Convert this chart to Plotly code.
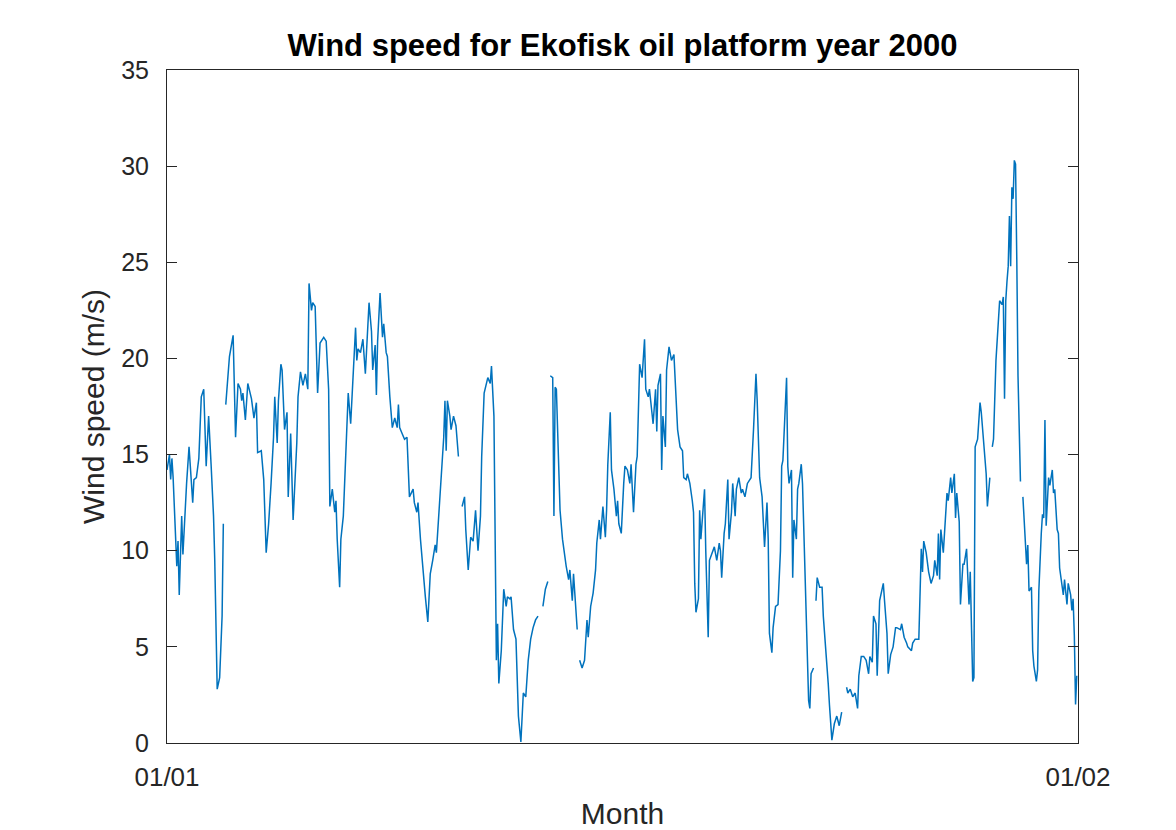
import pandas as pd
import plotly.graph_objects as go

# Hourly wind speed at Ekofisk, January 2000 (hours since 2000-01-01 00:00).
# None marks missing observations, which break the line.
hours = [
    0, 2, 3, 4, 5, 7, 8, 9, 10, 12, 13, 16, 18, 21, 22, 24, 26, 28, 30, 32,
    34, 36, 38, 39, 41, 43, 45, 46, 47,
    48, 50, 51, 54, 55, 56, 58, 60, 61, 62, 64, 66, 69, 71, 73, 74, 77, 79, 81, 83,
    85, 87, 88, 90, 91, 93, 94, 96, 98, 99, 101, 103, 106, 107, 109, 111, 113, 115, 116, 118,
    119, 121, 123, 125, 128, 130, 132, 133, 135, 137, 138, 139, 141, 142, 144, 146, 148, 150, 152, 154,
    155, 156, 158, 160, 162, 164, 165, 167, 168, 170, 171, 172, 174, 176, 177, 179, 180, 182, 184, 186,
    188, 189, 190, 192, 194, 196, 197, 198, 201, 202, 204, 205, 207, 209, 211, 213, 215, 217, 219, 220,
    222, 224, 226, 227, 228, 229, 231, 232, 234, 236, 238, 239,
    241, 243, 244, 246, 248, 250, 252, 254, 256, 257, 259, 262, 264, 265, 267, 268, 269, 270, 271, 273,
    275, 277, 278, 280, 281, 283, 285, 287, 289, 291, 293, 295, 297, 299, 301, 303, 305,
    307, 309, 311, 312,
    313, 315, 316, 317, 318, 320, 321, 323, 325, 326, 328, 329, 331, 332, 335, 336,
    337, 339, 341, 343, 344, 346, 348, 350, 351, 353, 354, 355, 356, 358, 359, 360, 362, 363, 365, 367,
    368, 369, 371, 373, 374, 376, 378, 379, 381, 383, 384, 386, 388, 390, 391, 393, 394, 396, 397, 399,
    400, 401, 403, 404, 405, 407, 408, 410, 412, 414, 416, 417, 419, 421, 422, 424, 425, 427, 429, 430,
    431, 432, 434, 435, 436, 438, 439, 440, 442, 443, 445, 447, 449, 451, 452, 453, 455, 456, 458, 459,
    461, 462, 464, 465, 467, 469, 470, 472, 474, 476, 477, 479, 481, 482, 484, 486, 487, 488, 490, 491,
    492, 494, 495, 497, 499, 501, 502, 503, 506, 507, 508, 510, 511, 512, 514, 515, 516, 518, 519, 520,
    522, 524, 525, 526, 528, 529,
    530, 531, 533, 535, 536, 538, 540, 541, 543, 545, 547, 549, 551, 553,
    555, 556, 558, 560, 562, 564, 565, 567, 569, 571, 573, 574, 576, 577, 579, 580, 582, 585, 586, 588,
    589, 591, 593, 595, 596, 599, 600, 602, 604, 605, 608, 609, 611, 614, 616, 617, 618, 620, 622, 624,
    626, 627, 629, 630, 631, 632, 634, 635, 637, 638, 640, 641, 643, 644, 645, 647, 648, 650, 651, 653,
    654, 655, 656, 658, 659, 660, 662, 664, 665, 667, 669, 670, 672, 673,
    674, 675, 677, 678, 680, 682, 683, 684, 685, 686, 687, 688, 689, 690, 691, 692, 693, 694, 695, 697, 698,
    699, 700, 701, 702, 703, 704, 706, 707, 708, 710, 711, 712, 714, 715, 716, 717, 718, 720, 721, 723,
    724, 725, 727, 728, 729, 731, 732, 733, 735, 736, 738, 739, 740, 741, 742, 743,
]

speed = [
    14.2, 15.0, 13.7, 14.8, 13.8, 11.0, 9.2, 10.5, 7.7, 11.8, 9.8, 13.5, 15.4, 12.5, 13.7, 13.8, 14.8, 18.0, 18.4, 14.4,
    17.0, 14.5, 11.8, 9.5, 2.8, 3.4, 6.6, 11.4, None,
    17.6, 19.4, 20.1, 21.2, 19.0, 15.9, 18.7, 18.4, 17.8, 18.2, 16.8, 18.7, 17.9, 16.9, 17.7, 15.1, 15.2, 13.7, 9.9, 11.4,
    13.5, 15.9, 18.0, 15.6, 17.8, 19.7, 19.4, 16.3, 17.2, 12.8, 16.1, 11.6, 15.6, 18.0, 19.3, 18.6, 19.2, 18.4, 23.9, 22.5,
    22.9, 22.7, 18.2, 20.8, 21.1, 20.9, 18.4, 12.3, 13.2, 12.0, 12.6, 10.6, 8.1, 10.6, 11.8, 15.4, 18.2, 16.6, 19.2, 21.6,
    19.9, 20.5, 20.3, 21.0, 19.2, 21.6, 22.9, 21.4, 19.4, 20.7, 18.1, 20.9, 23.4, 21.1, 21.8, 20.3, 20.1, 18.0, 16.4, 16.9,
    16.4, 17.6, 16.4, 16.1, 15.8, 15.9, 14.4, 12.8, 13.2, 12.5, 12.0, 12.5, 10.6, 9.0, 7.6, 6.3, 8.8, 9.5, 10.3, 9.9,
    11.8, 13.5, 15.9, 17.8, 15.2, 17.8, 17.0, 16.3, 17.0, 16.5, 14.9, None,
    12.3, 12.8, 11.1, 9.0, 10.7, 10.5, 12.1, 10.0, 11.8, 14.9, 18.2, 19.0, 18.7, 19.6, 17.0, 8.3, 4.3, 6.2, 3.1, 4.8,
    8.0, 7.1, 7.6, 7.5, 7.6, 5.9, 5.4, 1.4, 0.05, 2.6, 2.4, 4.3, 5.4, 6.0, 6.4, 6.6, None,
    7.1, 8.0, 8.4, None,
    19.1, 19.0, 11.8, 18.5, 18.4, 14.4, 12.1, 10.6, 9.5, 9.2, 8.5, 9.0, 7.4, 8.8, 5.9, None,
    4.3, 3.9, 4.3, 6.4, 5.5, 7.1, 7.8, 9.0, 10.4, 11.6, 10.6, 11.8, 12.3, 10.7, 12.1, 14.5, 17.2, 14.2, 13.2, 11.8,
    12.6, 11.4, 10.9, 13.5, 14.4, 14.2, 13.5, 14.5, 12.0, 14.5, 14.9, 19.7, 19.0, 21.0, 18.4, 18.0, 18.4, 17.2, 16.6, 18.4,
    16.2, 18.6, 19.2, 14.2, 17.0, 15.4, 19.4, 20.6, 19.9, 20.2, 18.0, 16.3, 15.4, 15.2, 13.8, 13.7, 14.0, 13.5, 12.6, 12.0,
    8.3, 6.8, 7.5, 12.1, 10.6, 12.1, 13.2, 10.0, 5.5, 9.5, 9.9, 10.2, 9.5, 10.4, 10.0, 8.6, 10.9, 11.4, 13.7, 10.6,
    12.0, 13.5, 11.8, 13.2, 13.8, 13.0, 13.2, 12.8, 13.5, 13.7, 13.8, 16.3, 19.2, 17.8, 13.8, 12.8, 11.2, 10.2, 12.5, 10.6,
    5.7, 4.7, 6.0, 7.1, 7.2, 10.0, 14.4, 14.7, 19.0, 14.4, 13.5, 14.2, 8.6, 11.6, 10.6, 13.2, 13.5, 14.5, 13.5, 11.2,
    7.1, 2.2, 1.8, 3.6, 3.9, None,
    7.4, 8.6, 8.1, 8.1, 6.6, 5.0, 3.1, 2.0, 0.15, 1.0, 1.4, 0.9, 1.6, None,
    2.9, 2.6, 2.8, 2.4, 2.6, 1.8, 3.5, 4.5, 4.5, 4.3, 3.6, 4.5, 4.2, 6.6, 6.2, 3.5, 7.4, 8.3, 7.4, 5.7,
    3.6, 4.6, 5.0, 6.0, 6.0, 5.9, 6.2, 5.5, 5.2, 5.0, 4.8, 5.2, 5.4, 5.4, 10.1, 8.9, 10.5, 9.9, 8.9, 8.3,
    8.7, 9.5, 8.7, 10.9, 8.5, 11.1, 9.9, 11.1, 13.0, 12.6, 13.8, 13.0, 14.0, 11.7, 13.0, 11.5, 7.2, 9.3, 9.3, 10.1,
    8.9, 7.2, 8.9, 3.2, 3.4, 15.4, 15.8, 17.7, 17.2, 15.4, 14.0, 12.3, 13.8, None,
    15.4, 15.8, 19.9, 20.9, 23.0, 22.8, 23.2, 17.9, 23.0, 24.0, 24.8, 27.4, 24.8, 28.9, 28.3, 30.3, 30.1, 25.2, 19.1, 13.6, None,
    12.8, 11.7, 10.1, 9.3, 10.3, 7.9, 8.1, 4.8, 4.0, 3.2, 3.8, 7.9, 10.9, 11.9, 11.7, 16.8, 11.3, 13.8, 13.4, 14.2,
    13.0, 13.2, 11.1, 10.9, 9.1, 8.3, 7.7, 8.5, 7.2, 8.3, 7.7, 6.9, 7.5, 5.6, 2.0, 3.5,
]

y_ticks = [0, 5, 10, 15, 20, 25, 30, 35]
month_start = pd.Timestamp("2000-01-01")
month_end = pd.Timestamp("2000-02-01")
x_ticks = [month_start, month_end]

times = month_start + pd.to_timedelta(hours, unit="h")

AXIS_GREY = "#262626"
FONT = "Liberation Sans, Arial, Helvetica, sans-serif"

fig = go.Figure(
    go.Scatter(
        x=times,
        y=speed,
        mode="lines",
        line=dict(color="#0072BD", width=1.5),
        connectgaps=False,
        showlegend=False,
    )
)

fig.update_layout(
    width=1176,
    height=830,
    margin=dict(l=167, r=98, t=70, b=87, autoexpand=False),
    paper_bgcolor="white",
    plot_bgcolor="white",
    font=dict(family=FONT, color=AXIS_GREY),
    title=dict(
        text="<b>Wind speed for Ekofisk oil platform year 2000</b>",
        x=(167 + 1078) / 2 / 1176,
        xanchor="center",
        y=1 - 45 / 830,
        yanchor="middle",
        font=dict(family=FONT, size=31, color="black"),
    ),
)

fig.update_xaxes(
    range=[month_start, month_end],
    tickvals=x_ticks,
    tickformat="%d/%m",
    ticks="inside",
    ticklen=10,
    tickcolor=AXIS_GREY,
    showline=True,
    linecolor=AXIS_GREY,
    linewidth=1,
    mirror="ticks",
    showgrid=False,
    zeroline=False,
    automargin=False,
    tickfont=dict(size=26, color=AXIS_GREY),
    ticklabelstandoff=11,
    title=dict(text="Month", font=dict(size=30, color=AXIS_GREY), standoff=12),
)

fig.update_yaxes(
    range=[0, 35],
    tickvals=y_ticks,
    ticks="inside",
    ticklen=10,
    tickcolor=AXIS_GREY,
    showline=True,
    linecolor=AXIS_GREY,
    linewidth=1,
    mirror="ticks",
    showgrid=False,
    zeroline=False,
    automargin=False,
    tickfont=dict(size=25, color=AXIS_GREY),
    ticklabelstandoff=12,
    title=dict(text="Wind speed (m/s)", font=dict(size=30, color=AXIS_GREY), standoff=7),
)

fig.write_html("out.html")
